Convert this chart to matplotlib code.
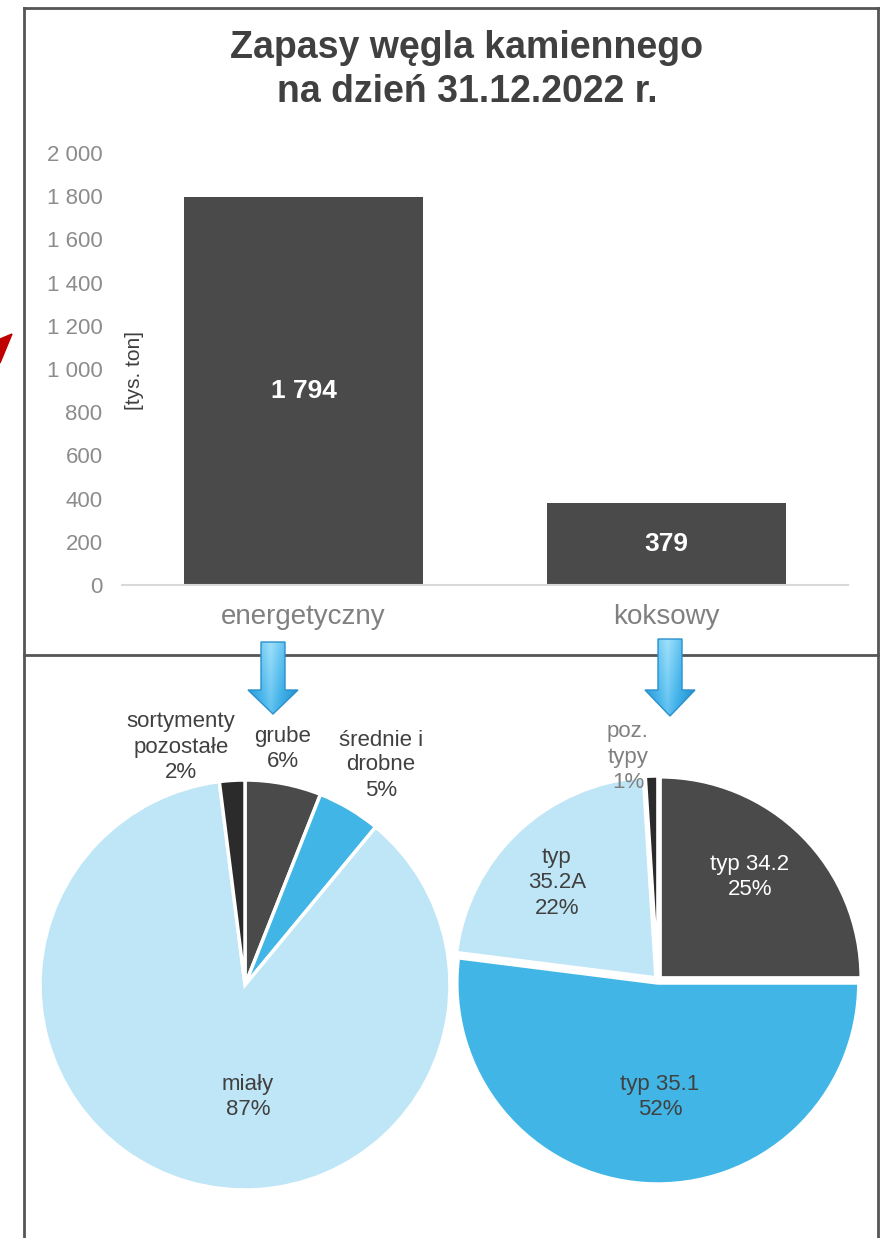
import matplotlib
matplotlib.use("Agg")
import numpy as np
import matplotlib.pyplot as plt
from matplotlib.patches import Polygon
from matplotlib.lines import Line2D

plt.rcParams['font.family'] = ['Liberation Sans', 'DejaVu Sans']

# ---- data ----
title = "Zapasy węgla kamiennego\nna dzień 31.12.2022 r."
categories = ["energetyczny", "koksowy"]
stocks = [1794, 379]            # tys. ton
y_ticks = [0, 200, 400, 600, 800, 1000, 1200, 1400, 1600, 1800, 2000]

energ_names = ["grube", "średnie i\ndrobne", "miały", "sortymenty\npozostałe"]
energ_share = [6, 5, 87, 2]
koks_names = ["typ 34.2", "typ 35.1", "typ\n35.2A", "poz.\ntypy"]
koks_share = [25, 52, 22, 1]

DARK = "#4a4a4a"
BLUE = "#41b6e6"
LIGHT = "#bfe6f7"
BLACK = "#2b2b2b"
TXT = "#404040"
GREY = "#808080"

W, H = 885, 1238
fig = plt.figure(figsize=(W / 100, H / 100), dpi=100)


def fx(px):
    return px / W


def fy(py):
    return 1 - py / H


# ---- frames ----
frame_kw = dict(color="#555555", lw=2, transform=fig.transFigure)
fig.add_artist(Line2D([fx(24), fx(878)], [fy(8), fy(8)], **frame_kw))
fig.add_artist(Line2D([fx(24), fx(878)], [fy(655), fy(655)], **frame_kw))
fig.add_artist(Line2D([fx(24), fx(24)], [fy(8), fy(1238)], **frame_kw))
fig.add_artist(Line2D([fx(878), fx(878)], [fy(8), fy(1238)], **frame_kw))

# red arrow tip sticking in from the left
fig.add_artist(Polygon([(fx(0), fy(339)), (fx(12), fy(334)), (fx(0), fy(363))],
                       closed=True, color="#c00000", transform=fig.transFigure))

# ---- title ----
fig.text(fx(467), fy(70), title, ha="center", va="center", fontsize=27,
         fontweight="bold", color=TXT, linespacing=1.25)

# ---- bar chart ----
ax = fig.add_axes([fx(122), fy(585), fx(848) - fx(122), fy(153) - fy(585)])
x = range(len(categories))
bars = ax.bar(x, stocks, width=0.66, color=DARK, zorder=2)
ax.set_xlim(-0.5, 1.5)
ax.set_ylim(0, 2000)
ax.set_yticks(y_ticks)
ax.set_yticklabels([f"{v:,}".replace(",", " ") for v in y_ticks])
ax.set_xticks(list(x))
ax.set_xticklabels(categories)
ax.tick_params(axis="y", length=0, pad=14, labelsize=16, labelcolor="#8c8c8c")
ax.tick_params(axis="x", length=0, pad=14, labelsize=20, labelcolor=GREY)
for s in ["left", "top", "right"]:
    ax.spines[s].set_visible(False)
ax.spines["bottom"].set_color("#d9d9d9")
ax.spines["bottom"].set_linewidth(1.5)
for b, v in zip(bars, stocks):
    ax.text(b.get_x() + b.get_width() / 2, v / 2, f"{v:,}".replace(",", " "),
            ha="center", va="center", color="white", fontsize=19, fontweight="bold")
fig.text(fx(135), fy(370), "[tys. ton]", rotation=90, ha="center", va="center",
         fontsize=15, color=TXT)


# ---- blue arrows (with a simple gradient) ----
def arrow(cx, top, neck, tip, sw, hw):
    pts = [(cx - sw, top), (cx + sw, top), (cx + sw, neck), (cx + hw, neck),
           (cx, tip), (cx - hw, neck), (cx - sw, neck)]
    poly = Polygon([(fx(a), fy(b)) for a, b in pts], closed=True,
                   facecolor="none", edgecolor="#2b90cc", lw=1,
                   transform=fig.transFigure, zorder=6)
    fig.add_artist(poly)
    ia = fig.add_axes([fx(cx - hw), fy(tip), 2 * hw / W, (tip - top) / H], zorder=5)
    ia.set_axis_off()
    g = np.linspace(0, 1, 64)
    grad = np.abs(g - 0.45)[None, :] + 0.3 * np.linspace(0, 1, 64)[:, None]
    im = ia.imshow(grad, cmap=plt.matplotlib.colors.LinearSegmentedColormap.from_list(
        "b", ["#9fe0fb", "#45b4ea", "#1a86c6"]), aspect="auto",
        extent=[0, 1, 0, 1], vmin=0, vmax=0.85)
    poly2 = Polygon([((a - (cx - hw)) / (2 * hw), (tip - b) / (tip - top)) for a, b in pts],
                    closed=True, transform=ia.transAxes, facecolor="none")
    ia.add_patch(poly2)
    im.set_clip_path(poly2)


arrow(273, 642, 690, 714, 12, 25)
arrow(670, 639, 690, 716, 12, 25)

# ---- pies ----
wedge_kw = dict(edgecolor="white", linewidth=2.5)

r1 = 205
ax1 = fig.add_axes([fx(245 - r1), fy(985 + r1), 2 * r1 / W, 2 * r1 / H])
ax1.pie(energ_share, colors=[DARK, BLUE, LIGHT, BLACK], startangle=90,
        counterclock=False, wedgeprops=wedge_kw)
ax1.set_xlim(-1, 1)
ax1.set_ylim(-1, 1)

r2 = 201
ax2 = fig.add_axes([fx(658 - r2), fy(980 + r2), 2 * r2 / W, 2 * r2 / H])
ax2.pie(koks_share, colors=[DARK, BLUE, LIGHT, BLACK], startangle=90,
        counterclock=False, explode=[0.015] * 4, wedgeprops=wedge_kw)
ax2.set_xlim(-1, 1)
ax2.set_ylim(-1, 1)

# pie labels (manual positions like in the original)
energ_pos = [(283, 749), (381, 765), (248, 1097), (181, 747)]
energ_col = [TXT, TXT, TXT, TXT]
koks_pos = [(750, 877), (660, 1097), (557, 883), (628, 757)]
koks_col = ["white", TXT, TXT, GREY]

for n, v, p, c in zip(energ_names + koks_names, energ_share + koks_share,
                      energ_pos + koks_pos, energ_col + koks_col):
    fig.text(fx(p[0]), fy(p[1]), f"{n}\n{v}%", ha="center", va="center",
             fontsize=16, color=c, linespacing=1.25)

fig.savefig("out.png", dpi=100)
